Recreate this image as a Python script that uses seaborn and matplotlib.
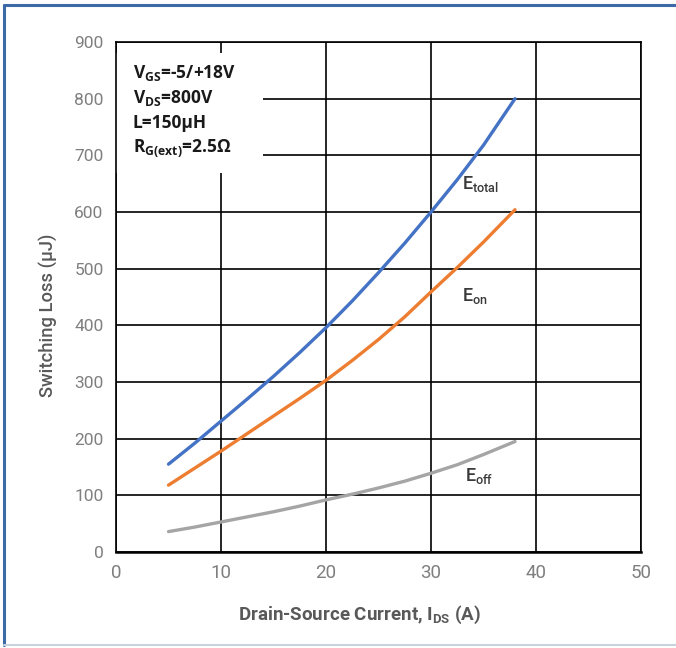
import matplotlib
matplotlib.use("Agg")
import matplotlib.pyplot as plt
from matplotlib.lines import Line2D
import seaborn as sns
import pandas as pd

# Switching energy versus drain current
current_a = [5, 7.5, 10, 12.5, 15, 17.5, 20, 22.5, 25, 27.5, 30, 32.5, 35, 38]
e_total = [155, 192, 231, 270, 310, 352, 396, 443, 493, 545, 600, 657, 718, 800]
e_on = [118, 148, 178, 209, 240, 271, 303, 338, 375, 415, 459, 502, 547, 604]
e_off = [36, 44, 53, 62, 71, 81, 92, 102, 113, 125, 139, 154, 172, 195]

series_names = ["Etotal", "Eon", "Eoff"]
series_colors = ["#4472C4", "#ED7D31", "#A5A5A5"]

x_ticks = [0, 10, 20, 30, 40, 50]
y_ticks = [0, 100, 200, 300, 400, 500, 600, 700, 800, 900]

conditions = [
    r"V$_{\mathregular{GS}}$=-5/+18V",
    r"V$_{\mathregular{DS}}$=800V",
    "L=150\u00b5H",
    r"R$_{\mathregular{G(ext)}}$=2.5" + "\u03a9",
]

df = pd.concat([
    pd.DataFrame({"I": current_a, "E": vals, "series": name})
    for name, vals in zip(series_names, [e_total, e_on, e_off])
])

sns.set_theme(style="white")
plt.rcParams["font.family"] = ["Roboto", "DejaVu Sans"]
plt.rcParams["mathtext.fontset"] = "custom"

fig = plt.figure(figsize=(6.76, 6.48), dpi=100)
ax = fig.add_axes([116 / 676, 1 - 552 / 648, (641 - 116) / 676, (552 - 42) / 648])

sns.lineplot(data=df, x="I", y="E", hue="series", hue_order=series_names,
             palette=series_colors, linewidth=2.4, legend=False, ax=ax,
             zorder=3, solid_capstyle="round", solid_joinstyle="round")

ax.set_xlim(0, 50)
ax.set_ylim(0, 900)
ax.set_xticks(x_ticks)
ax.set_yticks(y_ticks)
ax.grid(True, color="black", linewidth=1.2, zorder=1)
ax.set_axisbelow(True)
for s in ax.spines.values():
    s.set_color("black")
    s.set_linewidth(1.2)
ax.spines["bottom"].set_linewidth(1.8)
ax.tick_params(axis="both", length=0, colors="#7F7F7F")
ax.tick_params(axis="y", pad=9, labelsize=12.5)
ax.tick_params(axis="x", pad=9, labelsize=13.5)

ax.set_xlabel(r"Drain-Source Current, I$_{\mathregular{DS}}$ (A)", fontsize=13.5,
              color="#595959", fontweight="bold")
ax.xaxis.set_label_coords(0.463, -0.102)
ax.set_ylabel("Switching Loss (\u00b5J)", fontsize=13.2, color="#595959",
              fontweight="medium")
ax.yaxis.set_label_coords(-0.11, 0.465)

# white box holding the test conditions
ax.add_patch(plt.Rectangle((0, 669), 14.0, 211, facecolor="white",
                           edgecolor="none", zorder=2))
for i, line in enumerate(conditions):
    ax.text(1.6, 846 - i * 44.5, line, fontsize=12.5, fontweight="bold",
            color="#1a1a1a", va="center", ha="left", zorder=4,
            family=["Open Sans", "DejaVu Sans"])

# curve labels
label_font = dict(fontsize=13, color="#3a3a3a", ha="left", va="center", zorder=4,
                  fontweight="medium", family=["Roboto", "DejaVu Sans"])
ax.text(33.0, 650, r"E$_{\mathregular{total}}$", **label_font)
ax.text(33.0, 452, r"E$_{\mathregular{on}}$", **label_font)
ax.text(33.2, 135, r"E$_{\mathregular{off}}$", **label_font)

# outer frame
fig.add_artist(Line2D([4 / 676, 1], [1 - 5 / 648] * 2, color="#3C6AA6", lw=2.2,
                      transform=fig.transFigure))
fig.add_artist(Line2D([4 / 676] * 2, [1 - 5 / 648, 1 - 645 / 648], color="#3C6AA6",
                      lw=2.2, transform=fig.transFigure))
fig.add_artist(Line2D([4 / 676, 1], [1 - 645 / 648] * 2, color="#C9D3DE", lw=1.5,
                      transform=fig.transFigure))

fig.savefig("out.png", dpi=100)
